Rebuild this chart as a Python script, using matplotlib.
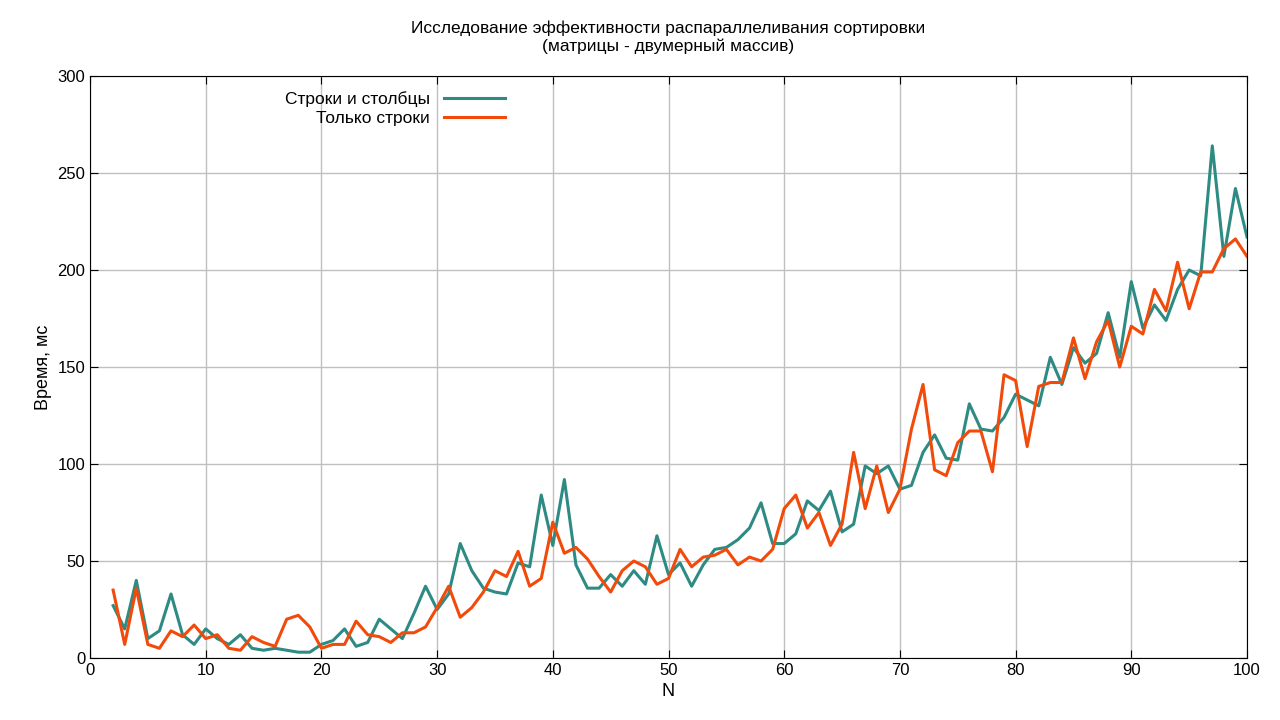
import matplotlib
matplotlib.use("Agg")
import matplotlib.pyplot as plt

N = list(range(2, 101))
rows_cols = [27,15,40,10,14,33,12,7,15,10,7,12,5,4,5,4,3,3,7,9,15,6,8,20,15,10,23,37,25,33,
             59,45,36,34,33,49,47,84,58,92,48,36,36,43,37,45,38,63,43,49,37,48,56,57,61,67,80,59,59,
             64,81,76,86,65,69,99,95,99,87,89,106,115,103,102,131,118,117,124,136,133,130,155,141,
             160,152,157,178,155,194,170,182,174,190,200,197,264,207,242,217]
rows_only = [35,7,36,7,5,14,11,17,10,12,5,4,11,8,6,20,22,16,5,7,7,19,12,11,8,13,13,16,26,37,
             21,26,34,45,42,55,37,41,70,54,57,51,42,34,45,50,47,38,41,56,47,52,53,56,48,52,50,56,77,
             84,67,75,58,69,106,77,99,75,87,118,141,97,94,111,117,117,96,146,143,109,140,142,142,
             165,144,163,174,150,171,167,190,179,204,180,199,199,211,216,207]

plt.rcParams['font.family'] = ['Liberation Sans', 'DejaVu Sans']
fig = plt.figure(figsize=(12.8, 7.2), dpi=100)
ax = fig.add_axes([90/1280, 1-658/720, (1247-90)/1280, (658-76)/720])
ax.plot(N, rows_cols, color='#2e8b84', lw=2.2, label='Строки и столбцы')
ax.plot(N, rows_only, color='#f24a0a', lw=2.2, label='Только строки')
ax.set_xlim(0, 100)
ax.set_ylim(0, 300)
ax.set_xticks(range(0, 101, 10))
ax.set_yticks(range(0, 301, 50))
ax.grid(True, color='#c0c0c0', lw=1)
ax.tick_params(direction='in', top=True, right=True, labelsize=12, length=6)
ax.set_xlabel('N', fontsize=13)
ax.set_ylabel('Время, мс', fontsize=13)
ax.set_title('Исследование эффективности распараллеливания сортировки\n(матрицы - двумерный массив)', fontsize=12.5, pad=18)
leg = ax.legend(loc='upper left', bbox_to_anchor=(0.155, 1.0), frameon=False, fontsize=12.5,
                markerfirst=False, handlelength=3.5, labelspacing=0.2)
for t in leg.get_texts():
    t.set_ha('right')
leg._legend_box.align = 'right'
fig.savefig('out.png', dpi=100, facecolor='white')
